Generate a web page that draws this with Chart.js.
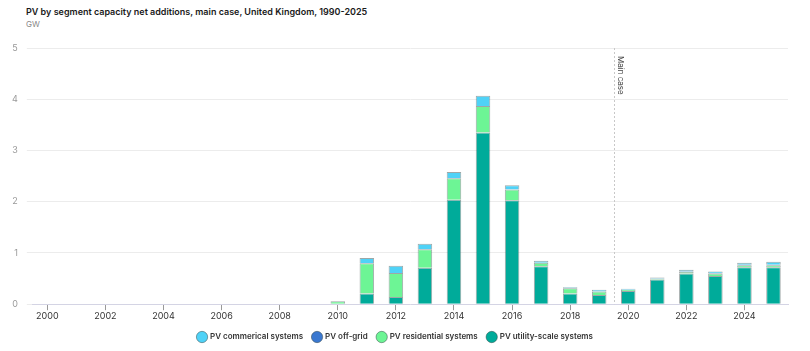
<!DOCTYPE html>
<html>
<head>
<meta charset="utf-8">
<script src="https://cdn.jsdelivr.net/npm/chart.js@4"></script>
<style>
  body { margin: 0; background: #fff; font-family: Inter, "Noto Sans", sans-serif; }
  #wrap { position: relative; width: 810px; height: 351px; }
  #title { position: absolute; left: 26px; top: 6px; font-size: 9px; font-weight: 600; color: #1a1a1a; }
  #unit { position: absolute; left: 26px; top: 19px; font-size: 8px; color: #888; }
  canvas { position: absolute; left: 0; top: 0; }
</style>
</head>
<body>
<div id="wrap">
  <div id="title">PV by segment capacity net additions, main case, United Kingdom, 1990-2025</div>
  <div id="unit">GW</div>
  <canvas id="chart" width="810" height="351"></canvas>
</div>
<script>
const years = ['2000','2001','2002','2003','2004','2005','2006','2007','2008','2009','2010','2011','2012',
  '2013','2014','2015','2016','2017','2018','2019','2020','2021','2022','2023','2024','2025'];

const utility     = [0,0,0,0,0,0,0,0,0,0,0,0.21,0.14,0.71,2.04,3.35,2.03,0.74,0.21,0.18,0.26,0.48,0.60,0.55,0.72,0.72];
const residential = [0,0,0,0,0,0,0,0,0,0,0.06,0.59,0.47,0.36,0.42,0.52,0.21,0.07,0.10,0.07,0.02,0.02,0.03,0.05,0.04,0.04];
const offGrid     = [0,0,0,0,0,0,0,0,0,0,0,0,0,0,0,0,0,0,0,0,0,0,0.01,0.01,0.01,0.01];
const commercial  = [0,0,0,0,0,0,0,0,0,0,0,0.10,0.14,0.11,0.12,0.20,0.08,0.04,0.02,0.03,0.02,0.02,0.03,0.03,0.04,0.06];

const mainCaseAfter = '2019';

// dashed "Main case" marker between 2019 and 2020
const mainCasePlugin = {
  id: 'mainCase',
  afterDatasetsDraw(chart) {
    const x = chart.scales.x;
    const area = chart.chartArea;
    const i = years.indexOf(mainCaseAfter);
    const px = Math.round((x.getPixelForValue(i) + x.getPixelForValue(i + 1)) / 2);
    const c = chart.ctx;
    c.save();
    c.strokeStyle = '#c8c8c8';
    c.lineWidth = 1;
    c.setLineDash([2, 2]);
    c.beginPath();
    c.moveTo(px + 0.5, area.top);
    c.lineTo(px + 0.5, area.bottom);
    c.stroke();
    c.setLineDash([]);
    c.translate(px + 2, area.top + 8);
    c.rotate(Math.PI / 2);
    c.fillStyle = '#444';
    c.font = '8px Inter, "Noto Sans", sans-serif';
    c.textBaseline = 'bottom';
    c.fillText('Main case', 0, 0);
    c.restore();
  }
};

const border = 'rgba(40,60,60,0.45)';

new Chart(document.getElementById('chart'), {
  type: 'bar',
  data: {
    labels: years,
    datasets: [
      { label: 'PV utility-scale systems', data: utility, backgroundColor: '#00ab9a', borderColor: border, borderWidth: 1 },
      { label: 'PV residential systems', data: residential, backgroundColor: '#6df595', borderColor: border, borderWidth: 1 },
      { label: 'PV off-grid', data: offGrid, backgroundColor: '#3a78d0', borderColor: border, borderWidth: 1 },
      { label: 'PV commerical systems', data: commercial, backgroundColor: '#4fd2f7', borderColor: border, borderWidth: 1 }
    ]
  },
  options: {
    responsive: false,
    animation: false,
    layout: { padding: { top: 48, left: 3, right: 22, bottom: 0 } },
    datasets: { bar: { barPercentage: 0.5, categoryPercentage: 1 } },
    plugins: {
      tooltip: { enabled: false },
      legend: {
        position: 'bottom',
        reverse: true,
        labels: {
          usePointStyle: true,
          pointStyle: 'circle',
          boxWidth: 9,
          boxHeight: 9,
          padding: 10,
          color: '#333',
          font: { family: 'Inter, "Noto Sans", sans-serif', size: 8, weight: '600' }
        }
      }
    },
    scales: {
      x: {
        stacked: true,
        border: { color: '#d4d4e4' },
        grid: {
          offset: false,
          drawOnChartArea: false,
          tickLength: 6,
          color: (ctx) => (ctx.index % 2 === 0 ? '#999' : 'rgba(0,0,0,0)')
        },
        ticks: {
          autoSkip: false,
          maxRotation: 0,
          padding: 1,
          color: '#333',
          font: { family: 'Inter, "Noto Sans", sans-serif', size: 9 },
          callback: (v, i) => (i % 2 === 0 ? years[i] : '')
        }
      },
      y: {
        stacked: true,
        min: 0,
        max: 5,
        border: { display: false },
        grid: { color: '#ececec', tickLength: 6 },
        ticks: {
          stepSize: 1,
          padding: 9,
          color: '#999',
          font: { family: 'Inter, "Noto Sans", sans-serif', size: 9 }
        }
      }
    }
  },
  plugins: [mainCasePlugin]
});
</script>
</body>
</html>
